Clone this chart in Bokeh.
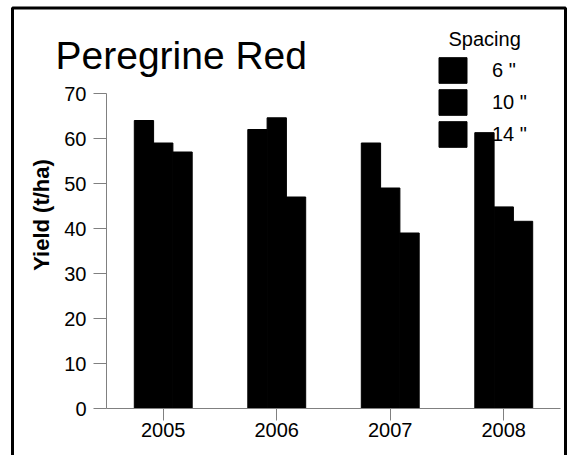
from bokeh.plotting import figure
from bokeh.models import (FactorRange, Range1d, FixedTicker, Legend, LegendItem,
                          ColumnDataSource)
from bokeh.core.properties import value
from bokeh.transform import dodge
from bokeh.embed import file_html
from bokeh.resources import INLINE

# ---- data ----
years = ["2005", "2006", "2007", "2008"]
spacings = ['6 "', '10 "', '14 "']
yield_6 = [64, 62, 59, 61.3]
yield_10 = [59, 64.6, 49, 44.8]
yield_14 = [57, 47, 39, 41.6]
y_ticks = [0, 10, 20, 30, 40, 50, 60, 70]
title_text = "Peregrine Red"
legend_title = "Spacing"
y_label = "Yield (t/ha)"

FONT = "Liberation Sans"

# ---- layout (pixels) ----
W, H = 567, 455
ML, MR, MT, MB = 106, 7, 21, 47
FW, FH = W - ML - MR, H - MT - MB
PX_PER_CAT = FW / len(years)


def cx(px):
    """page x pixel -> synthetic categorical x"""
    return (px - ML) / PX_PER_CAT


source = ColumnDataSource(dict(year=years, s6=yield_6, s10=yield_10, s14=yield_14))

p = figure(width=W, height=H,
           x_range=FactorRange(factors=years, range_padding=0),
           y_range=Range1d(0, 86),
           output_backend="svg", toolbar_location=None,
           min_border_left=ML, min_border_right=MR,
           min_border_top=MT, min_border_bottom=MB)
p.extra_y_ranges = {"px": Range1d(0, FH)}
p.outline_line_color = None
p.xgrid.visible = False
p.ygrid.visible = False
p.background_fill_color = "white"
p.border_fill_color = "white"

bw = 0.17
cols = ["s6", "s10", "s14"]
offsets = [-bw, 0, bw]
renderers = []
for c, off in zip(cols, offsets):
    r = p.vbar(x=dodge("year", off, range=p.x_range), top=c, width=bw, bottom=0,
               source=source, fill_color="black", line_color="black", line_width=1)
    renderers.append(r)

# axes
for ax in (p.xaxis[0], p.yaxis[0]):
    ax.axis_line_color = "#808080"
    ax.major_tick_line_color = "#808080"
    ax.minor_tick_line_color = None
    ax.major_tick_in = 0
    ax.major_label_text_font = FONT
    ax.major_label_text_font_size = "20px"
    ax.major_label_text_color = "black"

p.xaxis.major_tick_out = 12
p.xaxis.major_label_standoff = 2
p.yaxis.major_tick_out = 13
p.yaxis.major_label_standoff = 7
p.yaxis.bounds = (0, 70)
p.yaxis.ticker = FixedTicker(ticks=y_ticks)
p.yaxis.axis_label = y_label
p.yaxis.axis_label_text_font = FONT
p.yaxis.axis_label_text_font_size = "22px"
p.yaxis.axis_label_text_font_style = "bold"
p.yaxis.axis_label_text_color = "black"
p.yaxis.axis_label_standoff = 7

# outer border of the chart (decoration), drawn unclipped
p.quad(left=[cx(12)], right=[cx(565)], top=[FH + MT - 7.5], bottom=[-60],
       fill_color=None, line_color="black", line_width=3, level="overlay",
       y_range_name="px")

# title and legend heading
p.text(x=[cx(55)], y=[FH + MT - 55], text=[title_text],
       text_font=value(FONT), text_font_size=value("39px"), text_color="black",
       text_baseline="alphabetic", level="overlay", y_range_name="px")
p.text(x=[cx(448)], y=[FH + MT - 38], text=[legend_title],
       text_font=value(FONT), text_font_size=value("20px"), text_color="black",
       text_baseline="alphabetic", level="overlay", y_range_name="px")

legend = Legend(items=[LegendItem(label=s, renderers=[r]) for s, r in zip(spacings, renderers)],
                location=(329, 258), orientation="vertical",
                glyph_width=35, glyph_height=32, spacing=-1, padding=0, margin=0,
                label_standoff=22, label_text_font=FONT, label_text_font_size="20px",
                label_text_color="black", label_height=20,
                border_line_color=None, background_fill_alpha=0)
p.add_layout(legend, "center")

open("out.html", "w").write(file_html(p, INLINE))
